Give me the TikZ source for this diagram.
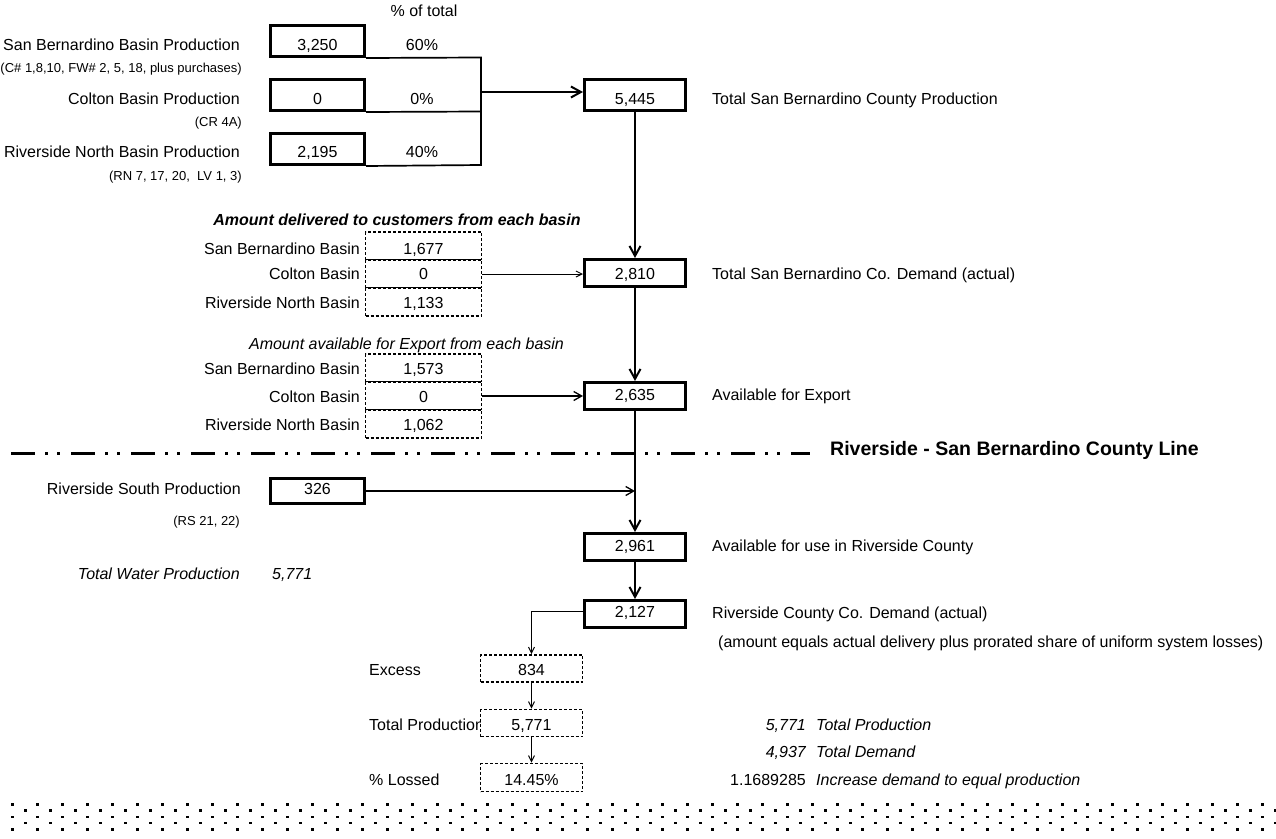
\documentclass[tikz,border=0pt]{standalone}
\usepackage{fontspec}
\setmainfont{Liberation Sans}
\usetikzlibrary{arrows.meta}
\begin{document}
\begin{tikzpicture}[x=1pt,y=-1pt,
  txt/.style={inner sep=0pt, anchor=mid, font=\fontsize{16}{19}\selectfont},
  sm/.style={inner sep=0pt, anchor=mid east, font=\fontsize{13}{15}\selectfont},
  bx/.style={draw, line width=3pt, inner sep=0pt, minimum width=94pt, minimum height=31pt},
  tbx/.style={draw, line width=3pt, inner sep=0pt, minimum width=101pt, minimum height=27pt},
  dbx/.style={draw, line width=1.6pt, dash pattern=on 3pt off 2pt, inner sep=0pt, minimum width=116pt, minimum height=28pt, fill=white},
  thk/.style={line width=2.4pt, -{Straight Barb[length=10pt,width=11pt,line width=2pt]}},
  thn/.style={line width=1pt, -{Straight Barb[length=6pt,width=6pt,line width=1pt]}},
  med/.style={line width=1.3pt, -{Straight Barb[length=8pt,width=9pt,line width=1.3pt]}},
  brk/.style={line width=1.7pt},
  it/.style={font=\fontsize{16}{19}\selectfont\itshape}
]
\useasboundingbox (0,0) rectangle (1276,838);
\clip (0,0) rectangle (1276,838);

% ---------- top: San Bernardino County production ----------
\node[txt] (pct) at (424,14) {\% of total};
\node[bx] (A) at (317.5,41) {};
\node[bx] (B) at (317.5,95) {};
\node[bx] (C) at (317.5,149) {};
\node[txt] (Av) at (317.5,48) {3,250};
\node[txt] (Bv) at (317.5,102) {0};
\node[txt] (Cv) at (317.5,155) {2,195};
\node[txt] (Ap) at (422,48) {60\%};
\node[txt] (Bp) at (422,102) {0\%};
\node[txt] (Cp) at (422,155) {40\%};
\node[txt, anchor=mid east] (Al) at (240,48) {San Bernardino Basin Production};
\node[txt, anchor=mid east] (Bl) at (240,102) {Colton Basin Production};
\node[txt, anchor=mid east] (Cl) at (240,155) {Riverside North Basin Production};
\node[sm] (As) at (242,70) {(C\# 1,8,10, FW\# 2, 5, 18, plus purchases)};
\node[sm] (Bs) at (242,124) {(CR 4A)};
\node[sm] (Cs) at (242,178) {(RN 7, 17, 20,\ \ LV 1, 3)};

\coordinate (br1) at (481,57.5);
\coordinate (br2) at (481,111.5);
\coordinate (br3) at (481,165);
\coordinate (j1) at (481,92);
\draw[brk] (A.south east) -- (br1) -- (br3) -- (C.south east);
\draw[brk] (B.south east) -- (br2);

\node[tbx, minimum height=31pt] (T1) at (635,95) {};
\node[txt] (T1v) at (635,102) {5,445};
\node[txt, anchor=mid west] (T1l) at (712,102) {Total San Bernardino County Production};
\draw[thk] (j1) -- (j1 -| T1.west);

% ---------- delivered ----------
\node[txt, font=\fontsize{16}{19}\selectfont\bfseries\itshape] (H1) at (397,223) {Amount delivered to customers from each basin};
\node[dbx] (D1) at (423.5,246) {};
\node[dbx] (D2) at (423.5,274) {};
\node[dbx] (D3) at (423.5,302) {};
\node[txt] (D1v) at (423.5,252) {1,677};
\node[txt] (D2v) at (423.5,277) {0};
\node[txt] (D3v) at (423.5,306) {1,133};
\node[txt, anchor=mid east] (D1l) at (360,252) {San Bernardino Basin};
\node[txt, anchor=mid east] (D2l) at (360,277) {Colton Basin};
\node[txt, anchor=mid east] (D3l) at (360,306) {Riverside North Basin};

\node[tbx] (T2) at (635,273) {};
\node[txt] (T2v) at (635,277) {2,810};
\node[txt, anchor=mid west] (T2l) at (712,277) {Total San Bernardino Co. Demand (actual)};
\draw[thk] (T1.south) -- (T2.north);
\draw[thn] (D2.east) -- (D2.east -| T2.west);

% ---------- export ----------
\node[txt, it] (H2) at (406.5,347) {Amount available for Export from each basin};
\node[dbx] (E1) at (423.5,368) {};
\node[dbx] (E2) at (423.5,396) {};
\node[dbx] (E3) at (423.5,424) {};
\node[txt] (E1v) at (423.5,372) {1,573};
\node[txt] (E2v) at (423.5,400) {0};
\node[txt] (E3v) at (423.5,428) {1,062};
\node[txt, anchor=mid east] (E1l) at (360,372) {San Bernardino Basin};
\node[txt, anchor=mid east] (E2l) at (360,400) {Colton Basin};
\node[txt, anchor=mid east] (E3l) at (360,428) {Riverside North Basin};

\node[tbx] (T3) at (635,396) {};
\node[txt] (T3v) at (635,398) {2,635};
\node[txt, anchor=mid west] (T3l) at (712,398) {Available for Export};
\draw[thk] (T2.south) -- (T3.north);
\draw[med] (E2.east) -- (E2.east -| T3.west);

% ---------- county line ----------
\coordinate (cl1) at (11,453);
\coordinate (cl2) at (810,453);
\draw[line width=3pt, dash pattern=on 24pt off 10pt on 3pt off 9pt on 3pt off 11pt] (cl1) -- (cl2);
\node[txt, anchor=mid west, font=\fontsize{19.5}{23}\selectfont\bfseries] (CL) at (830,453) {Riverside - San Bernardino County Line};

% ---------- Riverside ----------
\node[bx, minimum height=25pt] (R) at (317.5,491) {};
\node[txt] (Rv) at (317.5,492) {326};
\node[txt, anchor=mid east] (Rl) at (241,492) {Riverside South Production};
\node[sm] (Rs) at (240,523) {(RS 21, 22)};

\node[tbx] (T4) at (635,547) {};
\node[txt] (T4v) at (635,549) {2,961};
\node[txt, anchor=mid west] (T4l) at (712,549) {Available for use in Riverside County};
\draw[thk] (T3.south) -- (T4.north);
\coordinate (j2) at (T3.south |- R.east);
\draw[med, line width=1.8pt] (R.east) -- (j2);

\node[txt, anchor=mid east, it] (TW) at (240,577) {Total Water Production};
\node[txt, anchor=mid west, it] (TWv) at (272,577) {5,771};

\node[tbx] (T5) at (635,614) {};
\node[txt] (T5v) at (635,615) {2,127};
\node[txt, anchor=mid west] (T5l) at (712,616) {Riverside County Co. Demand (actual)};
\node[txt, anchor=mid west] (T5s) at (718,645) {(amount equals actual delivery plus prorated share of uniform system losses)};
\draw[thk] (T4.south) -- (T5.north);

% ---------- losses ----------
\node[txt, anchor=mid west] (Xl) at (369,673) {Excess};
\node[txt, anchor=mid west] (Pl) at (369,728) {Total Production};
\node[txt, anchor=mid west] (Ll) at (369,783) {\% Lossed};
\node[dbx, minimum width=102pt, minimum height=27pt] (X) at (531.5,668.5) {};
\node[dbx, minimum width=102pt, minimum height=27pt] (P) at (531.5,723) {};
\node[dbx, minimum width=102pt, minimum height=28pt] (L) at (531.5,777.5) {};
\node[txt] (Xv) at (531.5,673) {834};
\node[txt] (Pv) at (531.5,728) {5,771};
\node[txt] (Lv) at (531.5,783) {14.45\%};
\coordinate (k1) at ([yshift=3pt]T5.west);
\draw[thn] (k1) -| (X.north);
\draw[thn] (X.south) -- (P.north);
\draw[thn] (P.south) -- (L.north);

\node[txt, anchor=mid east, it] (S1v) at (806,728) {5,771};
\node[txt, anchor=mid west, it] (S1l) at (816,728) {Total Production};
\node[txt, anchor=mid east, it] (S2v) at (806,755) {4,937};
\node[txt, anchor=mid west, it] (S2l) at (816,755) {Total Demand};
\node[txt, anchor=mid east] (S3v) at (806,783) {1.1689285};
\node[txt, anchor=mid west, it] (S3l) at (816,783) {Increase demand to equal production};

% ---------- dotted band ----------
\foreach \r in {0,2,4} {
  \foreach \c in {0,...,51} {
    \fill (11+25*\c,803+6.25*\r) rectangle ++(2.6,2.6);
  }
}
\foreach \r in {1,3} {
  \foreach \c in {0,...,50} {
    \fill (24+25*\c,803+6.25*\r) rectangle ++(2.6,2.6);
  }
}
\end{tikzpicture}
\end{document}
